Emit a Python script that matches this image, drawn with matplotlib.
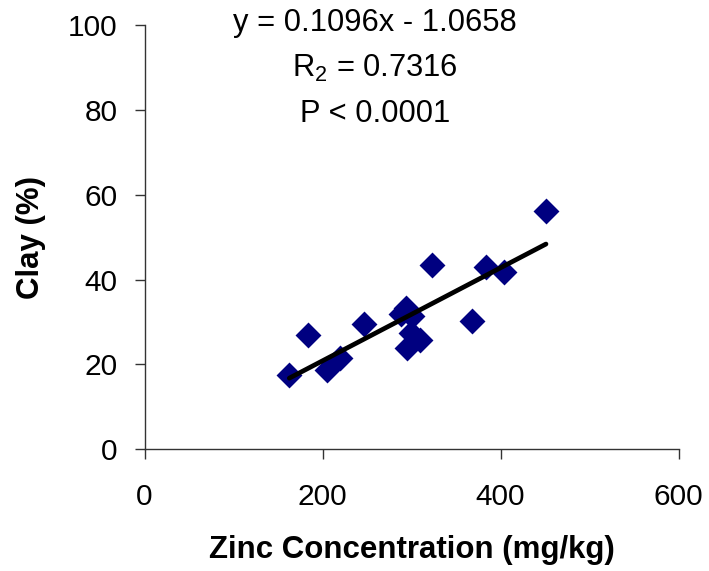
import matplotlib
matplotlib.use("Agg")
import matplotlib.pyplot as plt
import numpy as np

plt.rcParams['font.family'] = ['Liberation Sans', 'DejaVu Sans']
plt.rcParams['mathtext.fontset'] = 'custom'
plt.rcParams['mathtext.rm'] = 'Liberation Sans'
plt.rcParams['mathtext.it'] = 'Liberation Sans'

zinc = [162.7, 184.0, 204.7, 219.7, 247.0, 288.2, 293.8, 300.6, 299.4, 309.6,
        295.0, 323.4, 368.3, 383.7, 404.3, 451.1]
clay = [17.5, 26.9, 18.7, 21.4, 29.5, 31.9, 33.3, 31.4, 27.4, 25.8,
        23.9, 43.4, 30.2, 43.0, 41.9, 56.2]
slope = 0.1096
intercept = -1.0658
x_ticks = [0, 200, 400, 600]
y_ticks = [0, 20, 40, 60, 80, 100]
annotations = ["y = 0.1096x - 1.0658", r"R$_2$ = 0.7316", "P < 0.0001"]

fig = plt.figure(figsize=(7.09, 5.71), dpi=100)
ax = fig.add_axes([144.5/709, 1-449.3/571, (678.5-144.5)/709, (449.3-25)/571])

ax.scatter(zinc, clay, marker='D', s=13.2**2, color='#000080', linewidths=0, zorder=3)
xl = np.array([min(zinc), max(zinc)])
ax.plot(xl, slope*xl + intercept, color='black', lw=3.4, solid_capstyle='round', zorder=4)

ax.set_xlim(0, 600)
ax.set_ylim(0, 100)
ax.set_xticks(x_ticks)
ax.set_yticks(y_ticks)
ax.spines['top'].set_visible(False)
ax.spines['right'].set_visible(False)
for s in ['left', 'bottom']:
    ax.spines[s].set_linewidth(1.0)
    ax.spines[s].set_color('#333333')
ax.tick_params(direction='out', length=7.2, width=1.0, color='#333333',
               labelsize=21.5, pad=12)
ax.tick_params(axis='x', pad=17)

ax.set_xlabel("Zinc Concentration (mg/kg)", fontsize=22.5, fontweight='bold', labelpad=17)
ax.set_ylabel("Clay (%)", fontsize=22.5, fontweight='bold', labelpad=16)

for i, t in enumerate(annotations):
    fig.text(375/709, 1-(23 + 45.5*i)/571, t, fontsize=22.2, ha='center', va='center')

fig.savefig("out.png", dpi=100)
